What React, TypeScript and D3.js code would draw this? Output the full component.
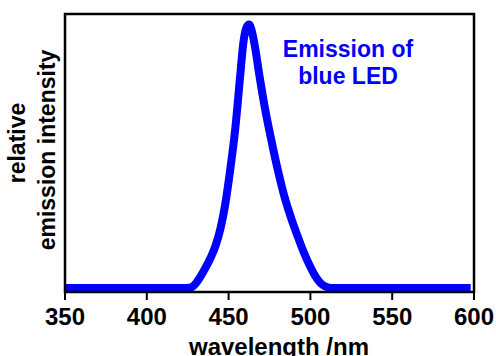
import * as d3 from "d3";

// emission spectrum of a blue LED
const wavelengths = [
  350, 400, 424, 427, 430, 433, 436, 439, 442, 445, 448, 451, 454, 457, 459,
  461, 462.5, 464, 466, 469, 472, 476, 480, 484, 488, 492, 496, 500, 503, 506,
  509, 513, 530, 598,
];
const intensity = [
  0, 0, 0, 0.002, 0.018, 0.045, 0.078, 0.115, 0.16, 0.225, 0.32, 0.45, 0.6,
  0.8, 0.93, 0.99, 1.0, 0.98, 0.92, 0.8, 0.69, 0.565, 0.45, 0.35, 0.27, 0.2,
  0.135, 0.08, 0.045, 0.02, 0.006, 0, 0, 0,
];
const xTicks = [350, 400, 450, 500, 550, 600];
const yLabelLines = ["relative", "emission intensity"];
const noteLines = ["Emission of", "blue LED"];

const W = 496;
const H = 356;
const M = { top: 14, right: 22, bottom: 64, left: 65 };
const FONT = "'Liberation Sans', Arial, Helvetica, sans-serif";
const BLUE = "#0000ff";

export default function App() {
  const x = d3.scaleLinear().domain([350, 600]).range([M.left, W - M.right]);
  const y = d3
    .scaleLinear()
    .domain([-0.015, 1.04])
    .range([H - M.bottom, M.top]);

  const points = wavelengths.map((w, i) => [w, intensity[i]] as [number, number]);
  const line = d3
    .line<[number, number]>()
    .x((d) => x(d[0]))
    .y((d) => y(d[1]))
    .curve(d3.curveMonotoneX);

  const x0 = M.left;
  const x1 = W - M.right;
  const y0 = M.top;
  const y1 = H - M.bottom;

  return (
    <svg
      width={W}
      height={H}
      style={{ position: "absolute", left: 0, top: 0, background: "#fff" }}
      fontFamily={FONT}
      fontWeight="bold"
    >
      <path
        d={line(points) ?? ""}
        fill="none"
        stroke={BLUE}
        strokeWidth={8}
        strokeLinejoin="round"
      />

      {/* frame */}
      <rect
        x={x0}
        y={y0}
        width={x1 - x0}
        height={y1 - y0}
        fill="none"
        stroke="#000"
        strokeWidth={2.5}
      />

      {/* x ticks */}
      {xTicks.map((t) => (
        <g key={t} transform={`translate(${x(t)},0)`}>
          <line y1={y1} y2={y1 + 8} stroke="#000" strokeWidth={2} />
          <text y={325} textAnchor="middle" fontSize={24} fill="#000">
            {t}
          </text>
        </g>
      ))}

      <text x={279} y={355} textAnchor="middle" fontSize={24} fill="#000">
        wavelength /nm
      </text>

      {/* y label */}
      {yLabelLines.map((s, i) => (
        <text
          key={s}
          transform={`translate(${25 + i * 30},${143 + i * 7}) rotate(-90)`}
          textAnchor="middle"
          fontSize={23}
          fill="#000"
        >
          {s}
        </text>
      ))}

      {/* annotation */}
      {noteLines.map((s, i) => (
        <text
          key={s}
          x={348}
          y={57 + i * 27}
          textAnchor="middle"
          fontSize={23}
          fill={BLUE}
        >
          {s}
        </text>
      ))}
    </svg>
  );
}
